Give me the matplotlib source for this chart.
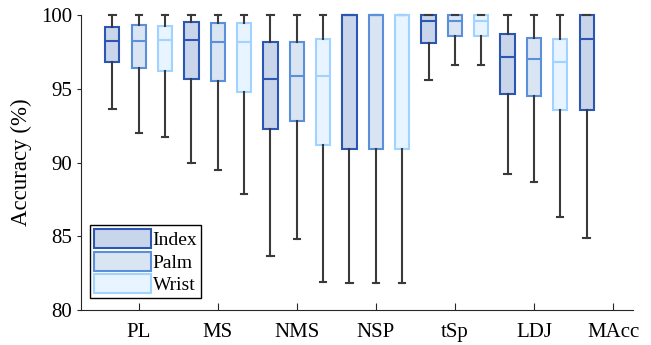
import numpy as np
import matplotlib
matplotlib.use("Agg")
import matplotlib.pyplot as plt
from matplotlib.patches import Patch

plt.rcParams['font.family'] = ['Liberation Serif', 'DejaVu Serif']

# metrics on x axis
metrics = ['PL', 'MS', 'NMS', 'NSP', 'tSp', 'LDJ', 'MAcc']
sensors = ['Index', 'Palm', 'Wrist']

# box stats per sensor: (low whisker, q1, median, q3, high whisker); None = missing
index_stats = [
    (93.6, 96.8, 98.25, 99.2, 100),
    (89.95, 95.65, 98.3, 99.5, 100),
    (83.65, 92.25, 95.65, 98.15, 100),
    (81.8, 90.9, 100, 100, 100),
    (95.6, 98.1, 99.6, 100, 100),
    (89.25, 94.65, 97.15, 98.7, 100),
    (84.9, 93.55, 98.35, 100, 100),
]
palm_stats = [
    (92.0, 96.4, 98.25, 99.35, 100),
    (89.5, 95.5, 98.2, 99.45, 100),
    (84.8, 92.8, 95.85, 98.2, 100),
    (81.8, 90.9, 100, 100, 100),
    (96.6, 98.55, 99.6, 100, 100),
    (88.7, 94.5, 97.05, 98.45, 100),
    None,
]
wrist_stats = [
    (91.75, 96.2, 98.3, 99.25, 100),
    (87.9, 94.8, 98.2, 99.45, 100),
    (81.9, 91.2, 95.85, 98.4, 100),
    (81.8, 90.9, 100, 100, 100),
    (96.6, 98.55, 99.6, 100, 100),
    (86.3, 93.55, 96.85, 98.35, 100),
    None,
]

edge_colors = ['#2b56b2', '#5b8fda', '#a2d2ff']
face_colors = ['#c9d5ea', '#dae5f4', '#e8f4ff']
whisker_color = '#3a3a3a'

fig = plt.figure(figsize=(6.51, 3.45), dpi=100)
ax = fig.add_axes([0.1244, 0.1014, 0.8476, 0.855])

offsets = [-1/3, 0, 1/3]
for k, stats in enumerate([index_stats, palm_stats, wrist_stats]):
    bxp_data = []
    pos = []
    for i, s in enumerate(stats):
        if s is None:
            continue
        lo, q1, med, q3, hi = s
        bxp_data.append(dict(whislo=lo, q1=q1, med=med, q3=q3, whishi=hi, fliers=[]))
        pos.append(i + 1 + offsets[k])
    parts = ax.bxp(bxp_data, positions=pos, widths=0.18, patch_artist=True,
                   showfliers=False,
                   boxprops=dict(facecolor=face_colors[k], edgecolor=edge_colors[k], linewidth=1.5),
                   medianprops=dict(color=edge_colors[k], linewidth=1.5),
                   whiskerprops=dict(color=whisker_color, linewidth=1.5),
                   capprops=dict(color=whisker_color, linewidth=1.5),
                   capwidths=0.08, zorder=3)
    for group in parts.values():
        for art in group:
            art.set_clip_on(False)

ax.set_xlim(0.27, 7.25)
ax.set_ylim(80, 100)
ax.set_xticks(np.arange(1, len(metrics) + 1))
ax.set_xticklabels(metrics)
ax.set_yticks([80, 85, 90, 95, 100])
ax.set_ylabel('Accuracy (%)', fontsize=16.5, labelpad=6)
ax.tick_params(axis='x', direction='in', length=5, labelsize=15, pad=9, color='#262626')
ax.tick_params(axis='y', direction='out', length=3, labelsize=15, color='#262626')
for side in ['top', 'right']:
    ax.spines[side].set_visible(False)
for side in ['left', 'bottom']:
    ax.spines[side].set_color('#262626')

handles = [Patch(facecolor=face_colors[k], edgecolor=edge_colors[k], linewidth=1.5, label=sensors[k])
           for k in range(3)]
leg = ax.legend(handles=handles, loc='lower left', bbox_to_anchor=(0.017, 0.04),
                fontsize=14, handlelength=2.9, handleheight=1.15, handletextpad=0.1,
                labelspacing=0.12, borderpad=0.2, borderaxespad=0, fancybox=False,
                framealpha=1, edgecolor='black')
leg.get_frame().set_linewidth(1.0)

fig.savefig('out.png', dpi=100)
